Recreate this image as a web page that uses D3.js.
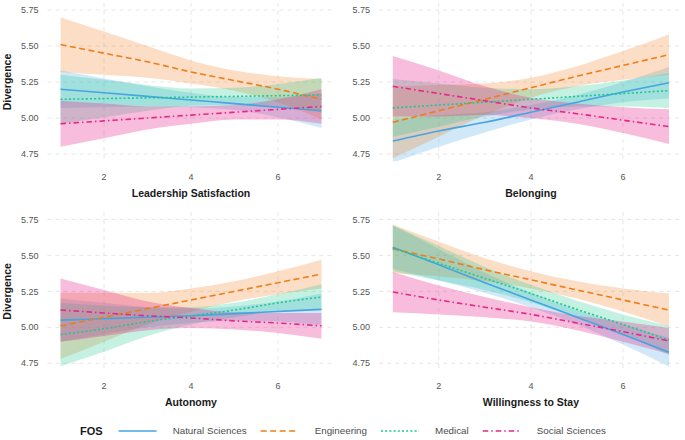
<!DOCTYPE html>
<html>
<head>
<meta charset="utf-8">
<script src="https://cdn.jsdelivr.net/npm/d3@7"></script>
<style>
  body { margin: 0; background: #fff; }
  svg { display: block; font-family: "Liberation Sans", Arial, sans-serif; }
</style>
</head>
<body>
<div id="chart"></div>
<script>
// ---- data ----
var xs = [1, 2, 3, 4, 5, 6, 7];
var fosNames = ["Natural Sciences", "Engineering", "Medical", "Social Sciences"];
var fosColors = ["#45a5e0", "#ef7d18", "#19c98f", "#e8268a"];
var fosDash = [null, "6,3.5", "2,2.2", "5.5,3,1.5,3"];
var xTicks = [2, 4, 6];
var yTicks = [4.75, 5.00, 5.25, 5.50, 5.75];
var panelTitles = ["Leadership Satisfaction", "Belonging", "Autonomy", "Willingness to Stay"];

// rows follow fosNames order
var leadershipFit = [
  [5.20, 5.175, 5.15, 5.125, 5.10, 5.075, 5.05],
  [5.51, 5.45, 5.39, 5.32, 5.26, 5.20, 5.13],
  [5.13, 5.135, 5.14, 5.145, 5.15, 5.155, 5.16],
  [4.96, 4.98, 5.00, 5.02, 5.04, 5.06, 5.08]
];
var leadershipLo = [
  [5.07, 5.075, 5.08, 5.075, 5.055, 5.005, 4.93],
  [5.32, 5.30, 5.28, 5.24, 5.19, 5.11, 4.99],
  [4.96, 5.005, 5.05, 5.085, 5.09, 5.075, 5.04],
  [4.80, 4.86, 4.92, 4.96, 4.99, 4.99, 4.96]
];
var leadershipHi = [
  [5.33, 5.275, 5.22, 5.175, 5.145, 5.145, 5.17],
  [5.70, 5.60, 5.50, 5.40, 5.33, 5.29, 5.27],
  [5.30, 5.265, 5.23, 5.205, 5.21, 5.235, 5.28],
  [5.12, 5.10, 5.08, 5.08, 5.09, 5.13, 5.20]
];

var belongingFit = [
  [4.84, 4.91, 4.97, 5.04, 5.11, 5.18, 5.245],
  [4.97, 5.05, 5.13, 5.21, 5.29, 5.365, 5.44],
  [5.07, 5.09, 5.11, 5.13, 5.15, 5.17, 5.19],
  [5.22, 5.17, 5.12, 5.07, 5.03, 4.985, 4.94]
];
var belongingLo = [
  [4.69, 4.80, 4.90, 4.99, 5.06, 5.11, 5.135],
  [4.72, 4.87, 5.02, 5.14, 5.22, 5.265, 5.30],
  [4.87, 4.94, 5.01, 5.06, 5.08, 5.08, 5.07],
  [5.01, 5.01, 5.02, 5.00, 4.96, 4.895, 4.82]
];
var belongingHi = [
  [4.99, 5.02, 5.04, 5.09, 5.16, 5.25, 5.355],
  [5.22, 5.23, 5.24, 5.28, 5.36, 5.465, 5.58],
  [5.27, 5.24, 5.21, 5.20, 5.22, 5.26, 5.31],
  [5.43, 5.33, 5.22, 5.14, 5.10, 5.075, 5.06]
];

var autonomyFit = [
  [5.05, 5.06, 5.07, 5.08, 5.095, 5.11, 5.125],
  [5.01, 5.07, 5.13, 5.19, 5.25, 5.31, 5.37],
  [4.95, 4.99, 5.04, 5.08, 5.12, 5.17, 5.21],
  [5.12, 5.10, 5.08, 5.065, 5.045, 5.03, 5.01]
];
var autonomyLo = [
  [4.90, 4.95, 5.00, 5.03, 5.045, 5.04, 5.015],
  [4.78, 4.90, 5.02, 5.11, 5.18, 5.23, 5.27],
  [4.73, 4.83, 4.94, 5.02, 5.07, 5.11, 5.12],
  [4.90, 4.94, 4.98, 4.995, 4.985, 4.96, 4.92]
];
var autonomyHi = [
  [5.20, 5.17, 5.14, 5.13, 5.145, 5.18, 5.235],
  [5.24, 5.24, 5.24, 5.27, 5.32, 5.39, 5.47],
  [5.17, 5.15, 5.14, 5.14, 5.17, 5.23, 5.30],
  [5.34, 5.26, 5.18, 5.135, 5.105, 5.10, 5.10]
];

var stayFit = [
  [5.557, 5.435, 5.31, 5.19, 5.07, 4.95, 4.827],
  [5.545, 5.475, 5.40, 5.33, 5.26, 5.19, 5.12],
  [5.55, 5.445, 5.34, 5.235, 5.125, 5.02, 4.91],
  [5.245, 5.19, 5.14, 5.09, 5.03, 4.97, 4.905]
];
var stayLo = [
  [5.407, 5.325, 5.24, 5.14, 5.02, 4.88, 4.727],
  [5.375, 5.355, 5.32, 5.27, 5.20, 5.11, 5.005],
  [5.39, 5.325, 5.26, 5.175, 5.065, 4.95, 4.81],
  [5.105, 5.09, 5.07, 5.04, 4.98, 4.90, 4.815]
];
var stayHi = [
  [5.707, 5.545, 5.38, 5.24, 5.12, 5.02, 4.927],
  [5.715, 5.595, 5.48, 5.39, 5.32, 5.27, 5.235],
  [5.71, 5.565, 5.42, 5.295, 5.185, 5.09, 5.01],
  [5.385, 5.29, 5.21, 5.14, 5.08, 5.04, 4.995]
];

// ---- layout ----
var W = 685, H = 440;
var panels = [
  {title: panelTitles[0], fit: leadershipFit, lo: leadershipLo, hi: leadershipHi, x0: 47.5, x1: 334.5, y0: 2.8, y1: 161.2, ytitle: true},
  {title: panelTitles[1], fit: belongingFit, lo: belongingLo, hi: belongingHi, x0: 379, x1: 682.8, y0: 2.8, y1: 161.2, ytitle: false},
  {title: panelTitles[2], fit: autonomyFit, lo: autonomyLo, hi: autonomyHi, x0: 47.5, x1: 334.5, y0: 212.2, y1: 370.5, ytitle: true},
  {title: panelTitles[3], fit: stayFit, lo: stayLo, hi: stayHi, x0: 379, x1: 682.8, y0: 212.2, y1: 370.5, ytitle: false}
];

var svg = d3.select("#chart").append("svg")
  .attr("width", W).attr("height", H);

var defs = svg.append("defs");

panels.forEach(function(p, pi) {
  var xScale = d3.scaleLinear().domain([0.7, 7.3]).range([p.x0, p.x1]);
  var yScale = d3.scaleLinear().domain([4.70, 5.80]).range([p.y1, p.y0]);

  defs.append("clipPath").attr("id", "clip" + pi)
    .append("rect")
    .attr("x", p.x0).attr("y", p.y0)
    .attr("width", p.x1 - p.x0).attr("height", p.y1 - p.y0);

  var g = svg.append("g");

  // grid
  g.selectAll(".gy").data(yTicks).enter().append("line")
    .attr("x1", p.x0).attr("x2", p.x1)
    .attr("y1", d => yScale(d)).attr("y2", d => yScale(d))
    .attr("stroke", "#e0e0e0").attr("stroke-width", 0.8)
    .attr("stroke-dasharray", "4,4");
  g.selectAll(".gx").data(xTicks).enter().append("line")
    .attr("y1", p.y0).attr("y2", p.y1)
    .attr("x1", d => xScale(d)).attr("x2", d => xScale(d))
    .attr("stroke", "#e0e0e0").attr("stroke-width", 0.8)
    .attr("stroke-dasharray", "4,4");

  var plot = g.append("g").attr("clip-path", "url(#clip" + pi + ")");

  var area = d3.area()
    .x((d, i) => xScale(xs[i]))
    .y0(d => yScale(d[0]))
    .y1(d => yScale(d[1]))
    .curve(d3.curveMonotoneX);
  var line = d3.line()
    .x((d, i) => xScale(xs[i]))
    .y(d => yScale(d))
    .curve(d3.curveMonotoneX);

  fosNames.forEach(function(name, k) {
    var band = xs.map((x, i) => [p.lo[k][i], p.hi[k][i]]);
    plot.append("path")
      .attr("d", area(band))
      .attr("fill", fosColors[k])
      .attr("fill-opacity", k == 3 ? 0.3 : 0.25)
      .attr("stroke", "none");
  });
  fosNames.forEach(function(name, k) {
    plot.append("path")
      .attr("d", line(p.fit[k]))
      .attr("fill", "none")
      .attr("stroke", fosColors[k])
      .attr("stroke-width", 1.6)
      .attr("stroke-dasharray", fosDash[k]);
  });

  // tick labels
  g.selectAll(".ty").data(yTicks).enter().append("text")
    .attr("x", p.x0 - 9).attr("y", d => yScale(d))
    .attr("dy", "0.35em")
    .attr("text-anchor", "end")
    .attr("font-size", 9)
    .attr("fill", "#555")
    .text(d => d3.format(".2f")(d));
  g.selectAll(".tx").data(xTicks).enter().append("text")
    .attr("x", d => xScale(d)).attr("y", p.y1 + 18.3)
    .attr("text-anchor", "middle")
    .attr("font-size", 9)
    .attr("fill", "#555")
    .text(d => d);

  // axis titles
  g.append("text")
    .attr("x", (p.x0 + p.x1) / 2).attr("y", p.y1 + 35.3)
    .attr("text-anchor", "middle")
    .attr("font-size", 10.5).attr("font-weight", "bold")
    .attr("fill", "#1a1a1a")
    .text(p.title);
  if (p.ytitle) {
    g.append("text")
      .attr("transform", "translate(11," + ((p.y0 + p.y1) / 2) + ") rotate(-90)")
      .attr("text-anchor", "middle")
      .attr("font-size", 10.5).attr("font-weight", "bold")
      .attr("fill", "#1a1a1a")
      .text("Divergence");
  }
});

// legend
var legY = 431;
var leg = svg.append("g");
var lx = 80;
var fos = leg.append("text").attr("x", lx).attr("y", legY).attr("dy", "0.35em")
  .attr("font-size", 11).attr("font-weight", "bold").attr("fill", "#1a1a1a")
  .text("FOS");
lx += fos.node().getComputedTextLength() + 16;
fosNames.forEach(function(name, k) {
  leg.append("line")
    .attr("x1", lx).attr("x2", lx + 38)
    .attr("y1", legY).attr("y2", legY)
    .attr("stroke", fosColors[k]).attr("stroke-width", 1.6)
    .attr("stroke-dasharray", fosDash[k]);
  lx += 38 + 16;
  var t = leg.append("text").attr("x", lx).attr("y", legY).attr("dy", "0.35em")
    .attr("font-size", 9.8).attr("fill", "#4d4d4d")
    .text(name);
  lx += t.node().getComputedTextLength() + 14;
});
</script>
</body>
</html>
